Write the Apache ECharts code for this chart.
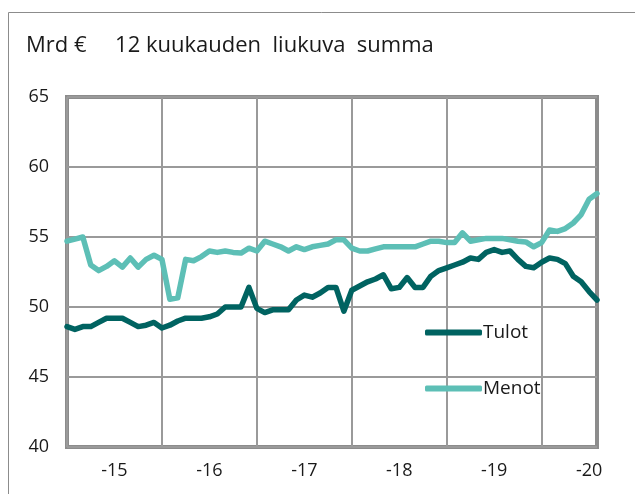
<!DOCTYPE html>
<html>
<head>
<meta charset="utf-8">
<script src="https://cdn.jsdelivr.net/npm/echarts@6/dist/echarts.min.js"></script>
<style>
  html, body { margin: 0; padding: 0; background: #fff; }
  #main { width: 635px; height: 494px; }
</style>
</head>
<body>
<div id="main"></div>
<script type="text/javascript">
	// kuukausittaiset 12 kk liukuvat summat, tammikuu 2015 - elokuu 2020
	var yearLabels = ['-15', '-16', '-17', '-18', '-19', '-20'];
	var tulot = [
		48.6, 48.4, 48.6, 48.6, 48.9, 49.2, 49.2, 49.2, 48.9, 48.6, 48.7, 48.9,
		48.5, 48.7, 49.0, 49.2, 49.2, 49.2, 49.3, 49.5, 50.0, 50.0, 50.0, 51.4,
		49.9, 49.6, 49.8, 49.8, 49.8, 50.5, 50.85, 50.7, 51.0, 51.4, 51.4, 49.7,
		51.2, 51.5, 51.8, 52.0, 52.3, 51.3, 51.4, 52.1, 51.4, 51.4, 52.2, 52.6,
		52.8, 53.0, 53.2, 53.5, 53.4, 53.9, 54.1, 53.9, 54.0, 53.4, 52.9, 52.8,
		53.2, 53.5, 53.4, 53.1, 52.2, 51.8, 51.1, 50.5
	];
	var menot = [
		54.7, 54.85, 55.0, 53.0, 52.6, 52.9, 53.3, 52.85, 53.5, 52.85, 53.4, 53.7,
		53.4, 50.55, 50.65, 53.4, 53.3, 53.6, 54.0, 53.9, 54.0, 53.9, 53.85, 54.2,
		54.0, 54.7, 54.5, 54.3, 54.0, 54.3, 54.1, 54.3, 54.4, 54.5, 54.8, 54.8,
		54.2, 54.0, 54.0, 54.15, 54.3, 54.3, 54.3, 54.3, 54.3, 54.5, 54.7, 54.7,
		54.6, 54.6, 55.3, 54.7, 54.8, 54.9, 54.9, 54.9, 54.8, 54.7, 54.65, 54.3,
		54.6, 55.5, 55.4, 55.6, 56.0, 56.6, 57.7, 58.1
	];
	var months = [];
	for (var i = 0; i < tulot.length; i++) {
		months.push(i);
	}

	var fontName = 'Open Sans';
	var myChart = echarts.init(document.getElementById('main'));
	var option = {
		animation : false,
		textStyle : { fontFamily : fontName },
		graphic : [ {
			type : 'polyline',
			shape : { points : [ [ 8.5, 494 ], [ 8.5, 12.5 ], [ 635, 12.5 ] ] },
			style : { stroke : '#8c8c8c', lineWidth : 1, fill : null }
		}, {
			type : 'text',
			left : 26,
			top : 35,
			style : {
				text : 'Mrd €     12 kuukauden  liukuva  summa',
				fontFamily : fontName,
				fontSize : 22,
				fill : '#1a1a1a'
			}
		} ],
		grid : {
			show : true,
			left : 67,
			right : 38,
			top : 97,
			bottom : 47,
			borderColor : '#8c8c8c',
			borderWidth : 4
		},
		legend : {
			orient : 'vertical',
			left : 420,
			top : 318,
			itemGap : 37,
			itemWidth : 57,
			itemHeight : 6,
			icon : 'roundRect',
			textStyle : { fontSize : 19, color : '#1a1a1a', padding : [ 0, 0, 0, -4 ] },
			data : [ 'Tulot', 'Menot' ]
		},
		xAxis : {
			type : 'category',
			boundaryGap : false,
			data : months,
			axisLine : { show : false },
			axisTick : { show : false },
			axisLabel : {
				interval : function(idx) { return idx % 12 === 6; },
				formatter : function(v) { return yearLabels[Math.floor(v / 12)]; },
				fontSize : 18,
				color : '#1a1a1a',
				margin : 15
			},
			splitLine : {
				show : true,
				interval : function(idx) { return idx % 12 === 0; },
				lineStyle : { color : '#9a9a9a', width : 2 }
			}
		},
		yAxis : {
			type : 'value',
			min : 40,
			max : 65,
			interval : 5,
			axisLine : { show : false },
			axisTick : { show : false },
			axisLabel : { fontSize : 18, color : '#1a1a1a', margin : 18 },
			splitLine : { lineStyle : { color : '#9a9a9a', width : 2 } }
		},
		series : [ {
			name : 'Tulot',
			type : 'line',
			data : tulot,
			symbol : 'none',
			color : '#006361',
			lineStyle : { width : 5.5, join : 'round', cap : 'round' }
		}, {
			name : 'Menot',
			type : 'line',
			data : menot,
			symbol : 'none',
			color : '#5dbfb6',
			lineStyle : { width : 5.5, join : 'round', cap : 'round' }
		} ]
	};
	myChart.setOption(option);
</script>
</body>
</html>
